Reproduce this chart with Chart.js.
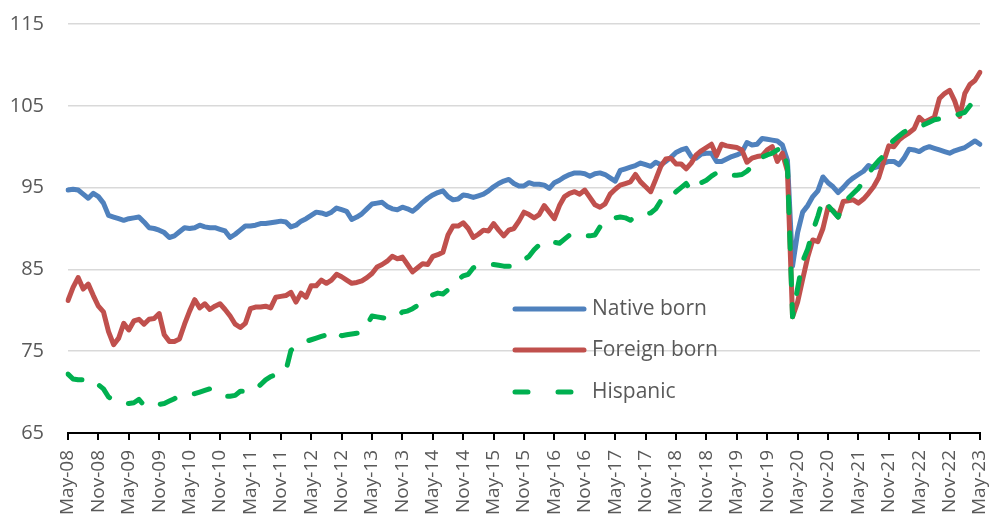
<!DOCTYPE html>
<html>
<head>
<meta charset="utf-8">
<script src="https://cdn.jsdelivr.net/npm/chart.js@4"></script>
<style>
html,body{margin:0;padding:0;background:#fff;}
#wrap{width:989px;height:521px;position:relative;}
</style>
</head>
<body>
<div id="wrap"><canvas id="c" width="989" height="521"></canvas></div>
<script>
// ---- categories: monthly, May-08 .. May-23 ----
const monthNames = ['Jan','Feb','Mar','Apr','May','Jun','Jul','Aug','Sep','Oct','Nov','Dec'];
const firstYear = 2008, firstMonth = 4, monthCount = 181;
const categories = [];
for (let i = 0; i < monthCount; i++) {
  const m = (firstMonth + i) % 12;
  const y = firstYear + Math.floor((firstMonth + i) / 12);
  categories.push(monthNames[m] + '-' + String(y % 100).padStart(2, '0'));
}

// ---- series values (index levels) ----
const nativeBorn = [
  94.7, 94.8, 94.7, 94.2, 93.7, 94.3, 93.9, 93.1, 91.6, 91.4,
  91.2, 91.0, 91.2, 91.3, 91.4, 90.8, 90.1, 90.0, 89.8, 89.5,
  88.9, 89.1, 89.6, 90.1, 90.0, 90.1, 90.4, 90.2, 90.1, 90.1,
  89.9, 89.7, 88.9, 89.3, 89.8, 90.3, 90.3, 90.4, 90.6, 90.6,
  90.7, 90.8, 90.9, 90.8, 90.2, 90.4, 90.9, 91.2, 91.6, 92.0,
  91.9, 91.7, 92.0, 92.5, 92.3, 92.1, 91.1, 91.4, 91.8, 92.4,
  93.0, 93.1, 93.2, 92.7, 92.4, 92.3, 92.6, 92.4, 92.1, 92.6,
  93.2, 93.7, 94.1, 94.4, 94.6, 93.9, 93.5, 93.6, 94.1, 94.0,
  93.8, 94.0, 94.2, 94.6, 95.1, 95.5, 95.8, 96.0, 95.5, 95.2,
  95.2, 95.6, 95.4, 95.4, 95.3, 94.9, 95.6, 95.9, 96.3, 96.6,
  96.8, 96.8, 96.7, 96.4, 96.7, 96.8, 96.6, 96.2, 95.8, 97.1,
  97.3, 97.5, 97.7, 98.0, 97.8, 97.6, 98.1, 97.8, 98.2, 98.7,
  99.3, 99.6, 99.8, 98.8, 98.6, 99.1, 99.2, 99.2, 98.2, 98.2,
  98.5, 98.8, 99.0, 99.3, 100.5, 100.2, 100.3, 101.0, 100.9, 100.8,
  100.7, 100.2, 98.3, 85.4, 89.5, 92.0, 92.8, 93.9, 94.6, 96.3,
  95.6, 95.1, 94.4, 95.0, 95.7, 96.2, 96.6, 97.0, 97.7, 97.4,
  97.6, 98.0, 98.2, 98.2, 97.8, 98.6, 99.7, 99.6, 99.4, 99.8,
  100.0, 99.8, 99.6, 99.4, 99.2, 99.5, 99.7, 99.9, 100.3, 100.7,
  100.3
];
const foreignBorn = [
  81.2, 82.8, 84.0, 82.6, 83.2, 81.8, 80.5, 79.8, 77.4, 75.8,
  76.6, 78.4, 77.6, 78.7, 78.9, 78.3, 78.9, 79.0, 79.6, 77.0,
  76.2, 76.2, 76.5, 78.3, 79.9, 81.3, 80.3, 80.8, 80.1, 80.5,
  80.8, 80.1, 79.3, 78.3, 77.9, 78.4, 80.2, 80.4, 80.4, 80.5,
  80.3, 81.6, 81.7, 81.8, 82.2, 81.0, 82.1, 81.6, 83.0, 83.0,
  83.7, 83.3, 83.7, 84.4, 84.1, 83.7, 83.3, 83.4, 83.6, 84.0,
  84.5, 85.3, 85.6, 86.0, 86.6, 86.3, 86.5, 85.6, 84.7, 85.2,
  85.7, 85.6, 86.6, 86.8, 87.1, 89.2, 90.3, 90.3, 90.7, 90.0,
  88.9, 89.3, 89.8, 89.7, 90.6, 89.8, 89.1, 89.8, 90.0, 90.9,
  92.0, 91.7, 91.3, 91.7, 92.8, 92.0, 91.2, 92.8, 93.9, 94.3,
  94.5, 94.2, 94.7, 93.8, 92.9, 92.6, 93.0, 94.2, 94.8, 95.3,
  95.5, 95.7, 96.6, 95.7, 95.1, 94.5, 96.0, 97.6, 98.5, 98.6,
  97.9, 97.9, 97.3, 98.0, 99.0, 99.5, 99.9, 100.3, 98.9, 100.3,
  100.1, 100.0, 99.9, 99.6, 98.1, 98.6, 98.8, 98.9, 99.6, 100.0,
  98.2, 99.2, 97.0, 79.2, 81.0, 83.8, 86.5, 88.6, 88.4, 90.0,
  92.6, 92.2, 91.4, 93.3, 93.4, 93.5, 93.1, 93.6, 94.3, 95.1,
  96.2, 98.2, 100.1, 100.0, 100.8, 101.3, 101.7, 102.2, 103.6, 103.0,
  103.3, 103.6, 105.9, 106.5, 106.9, 105.6, 103.7, 106.5, 107.6, 108.1,
  109.1
];
const hispanic = [
  72.2, 71.6, 71.5, 71.5, 71.7, 71.3, 70.9, 70.4, 69.4, 69.0,
  68.8, 68.7, 68.6, 68.7, 69.1, 68.4, 68.2, 68.3, 68.5, 68.6,
  68.9, 69.2, 69.5, 69.6, 69.7, 69.8, 70.0, 70.2, 70.4, 70.0,
  69.7, 69.5, 69.5, 69.6, 70.1, 70.1, 70.0, 70.4, 70.9, 71.5,
  71.9, 72.1, 72.3, 72.6, 75.1, 75.6, 75.8, 76.2, 76.4, 76.6,
  76.8, 77.0, 77.5, 77.3, 76.9, 77.0, 77.1, 77.2, 77.3, 78.2,
  79.3, 79.2, 79.1, 79.0, 79.0, 79.2, 79.8, 79.9, 80.2, 80.6,
  81.0, 81.4, 81.9, 82.1, 82.0, 82.5, 83.2, 83.8, 84.2, 84.4,
  85.2, 85.4, 85.5, 85.6, 85.6, 85.5, 85.4, 85.4, 85.4, 85.8,
  86.2, 86.6, 87.4, 88.0, 88.5, 88.4, 88.3, 88.2, 88.7, 89.2,
  89.0, 89.0, 89.1, 89.1, 89.2, 90.2, 90.9, 91.3, 91.3, 91.4,
  91.3, 91.0, 91.5, 91.7, 91.8, 91.9, 92.4, 93.4, 93.3, 93.8,
  94.5, 95.0, 95.5, 94.6, 95.1, 95.6, 95.9, 96.4, 96.8, 96.5,
  96.5, 96.5, 96.5, 96.6, 97.0, 97.6, 98.3, 98.7, 99.0, 99.2,
  99.6, 100.0, 97.5, 79.2, 82.7, 86.0, 87.5, 89.7, 91.5, 93.6,
  92.8, 92.1, 91.4, 92.9, 93.7, 94.3, 94.9, 95.8, 96.7, 97.6,
  98.3, 98.9, 100.2, 100.8, 101.3, 101.8, 102.1, 102.2, 102.4, 102.7,
  103.0, 103.3, 103.4, 103.6, 103.7, 103.8, 104.0, 104.2, 105.0, 105.8,
  106.4
];

const seriesNames = ['Native born', 'Foreign born', 'Hispanic'];
const yTickValues = [65, 75, 85, 95, 105, 115];

const COLORS = ['#4F81BD', '#C0504D', '#00B050'];
const TEXT = '#595959';
const FONT = 'Open Sans';

const insideLegend = {
  id: 'insideLegend',
  afterDatasetsDraw(chart) {
    const ctx = chart.ctx;
    const rows = [309, 350, 392];
    const x0 = 515, x1 = 584, tx = 592;
    ctx.save();
    chart.data.datasets.forEach((ds, i) => {
      ctx.beginPath();
      ctx.lineWidth = 5;
      ctx.lineCap = 'round';
      ctx.strokeStyle = ds.borderColor;
      ctx.setLineDash(ds.borderDash && ds.borderDash.length ? [13, 30] : []);
      ctx.moveTo(x0, rows[i]);
      ctx.lineTo(x1, rows[i]);
      ctx.stroke();
      ctx.setLineDash([]);
      ctx.fillStyle = TEXT;
      ctx.font = '21px "' + FONT + '"';
      ctx.textBaseline = 'middle';
      ctx.textAlign = 'left';
      ctx.fillText(ds.label, tx, rows[i]);
    });
    ctx.restore();
  }
};

new Chart(document.getElementById('c'), {
  type: 'line',
  data: {
    labels: categories,
    datasets: [
      { label: seriesNames[0], data: nativeBorn, borderColor: COLORS[0], backgroundColor: COLORS[0],
        borderWidth: 5, pointRadius: 0, tension: 0, borderJoinStyle: 'round', borderCapStyle: 'round', order: 3 },
      { label: seriesNames[1], data: foreignBorn, borderColor: COLORS[1], backgroundColor: COLORS[1],
        borderWidth: 5, pointRadius: 0, tension: 0, borderJoinStyle: 'round', borderCapStyle: 'round', order: 2 },
      { label: seriesNames[2], data: hispanic, borderColor: COLORS[2], backgroundColor: COLORS[2],
        borderWidth: 5, pointRadius: 0, tension: 0, borderJoinStyle: 'round', borderCapStyle: 'round',
        borderDash: [16, 20], order: 1 }
    ]
  },
  options: {
    responsive: false,
    animation: false,
    events: [],
    layout: { padding: { top: 24, right: 9, left: 0, bottom: 0 } },
    plugins: { legend: { display: false }, tooltip: { enabled: false } },
    scales: {
      x: {
        type: 'category',
        offset: false,
        grid: { display: true, drawOnChartArea: false, drawTicks: true, tickLength: 7, color: '#000', lineWidth: 2 },
        border: { display: true, color: '#000', width: 2 },
        ticks: {
          autoSkip: false, maxRotation: 90, minRotation: 90, padding: 10,
          color: TEXT, font: { family: FONT, size: 19 },
          callback: (v, i) => (i % 6 === 0 ? categories[i] : null)
        },
        afterFit: s => { s.height = 88; s.paddingLeft = 0; s.paddingRight = 0; }
      },
      y: {
        min: 65, max: 115,
        afterBuildTicks: s => { s.ticks = yTickValues.map(v => ({ value: v })); },
        grid: { color: '#d9d9d9', lineWidth: 1.5, drawTicks: false },
        border: { display: false },
        ticks: { padding: 24, color: TEXT, font: { family: FONT, size: 20 } },
        afterFit: s => { s.width = 68; s.paddingTop = 0; s.paddingBottom = 0; }
      }
    }
  },
  plugins: [insideLegend]
});
</script>
</body>
</html>
